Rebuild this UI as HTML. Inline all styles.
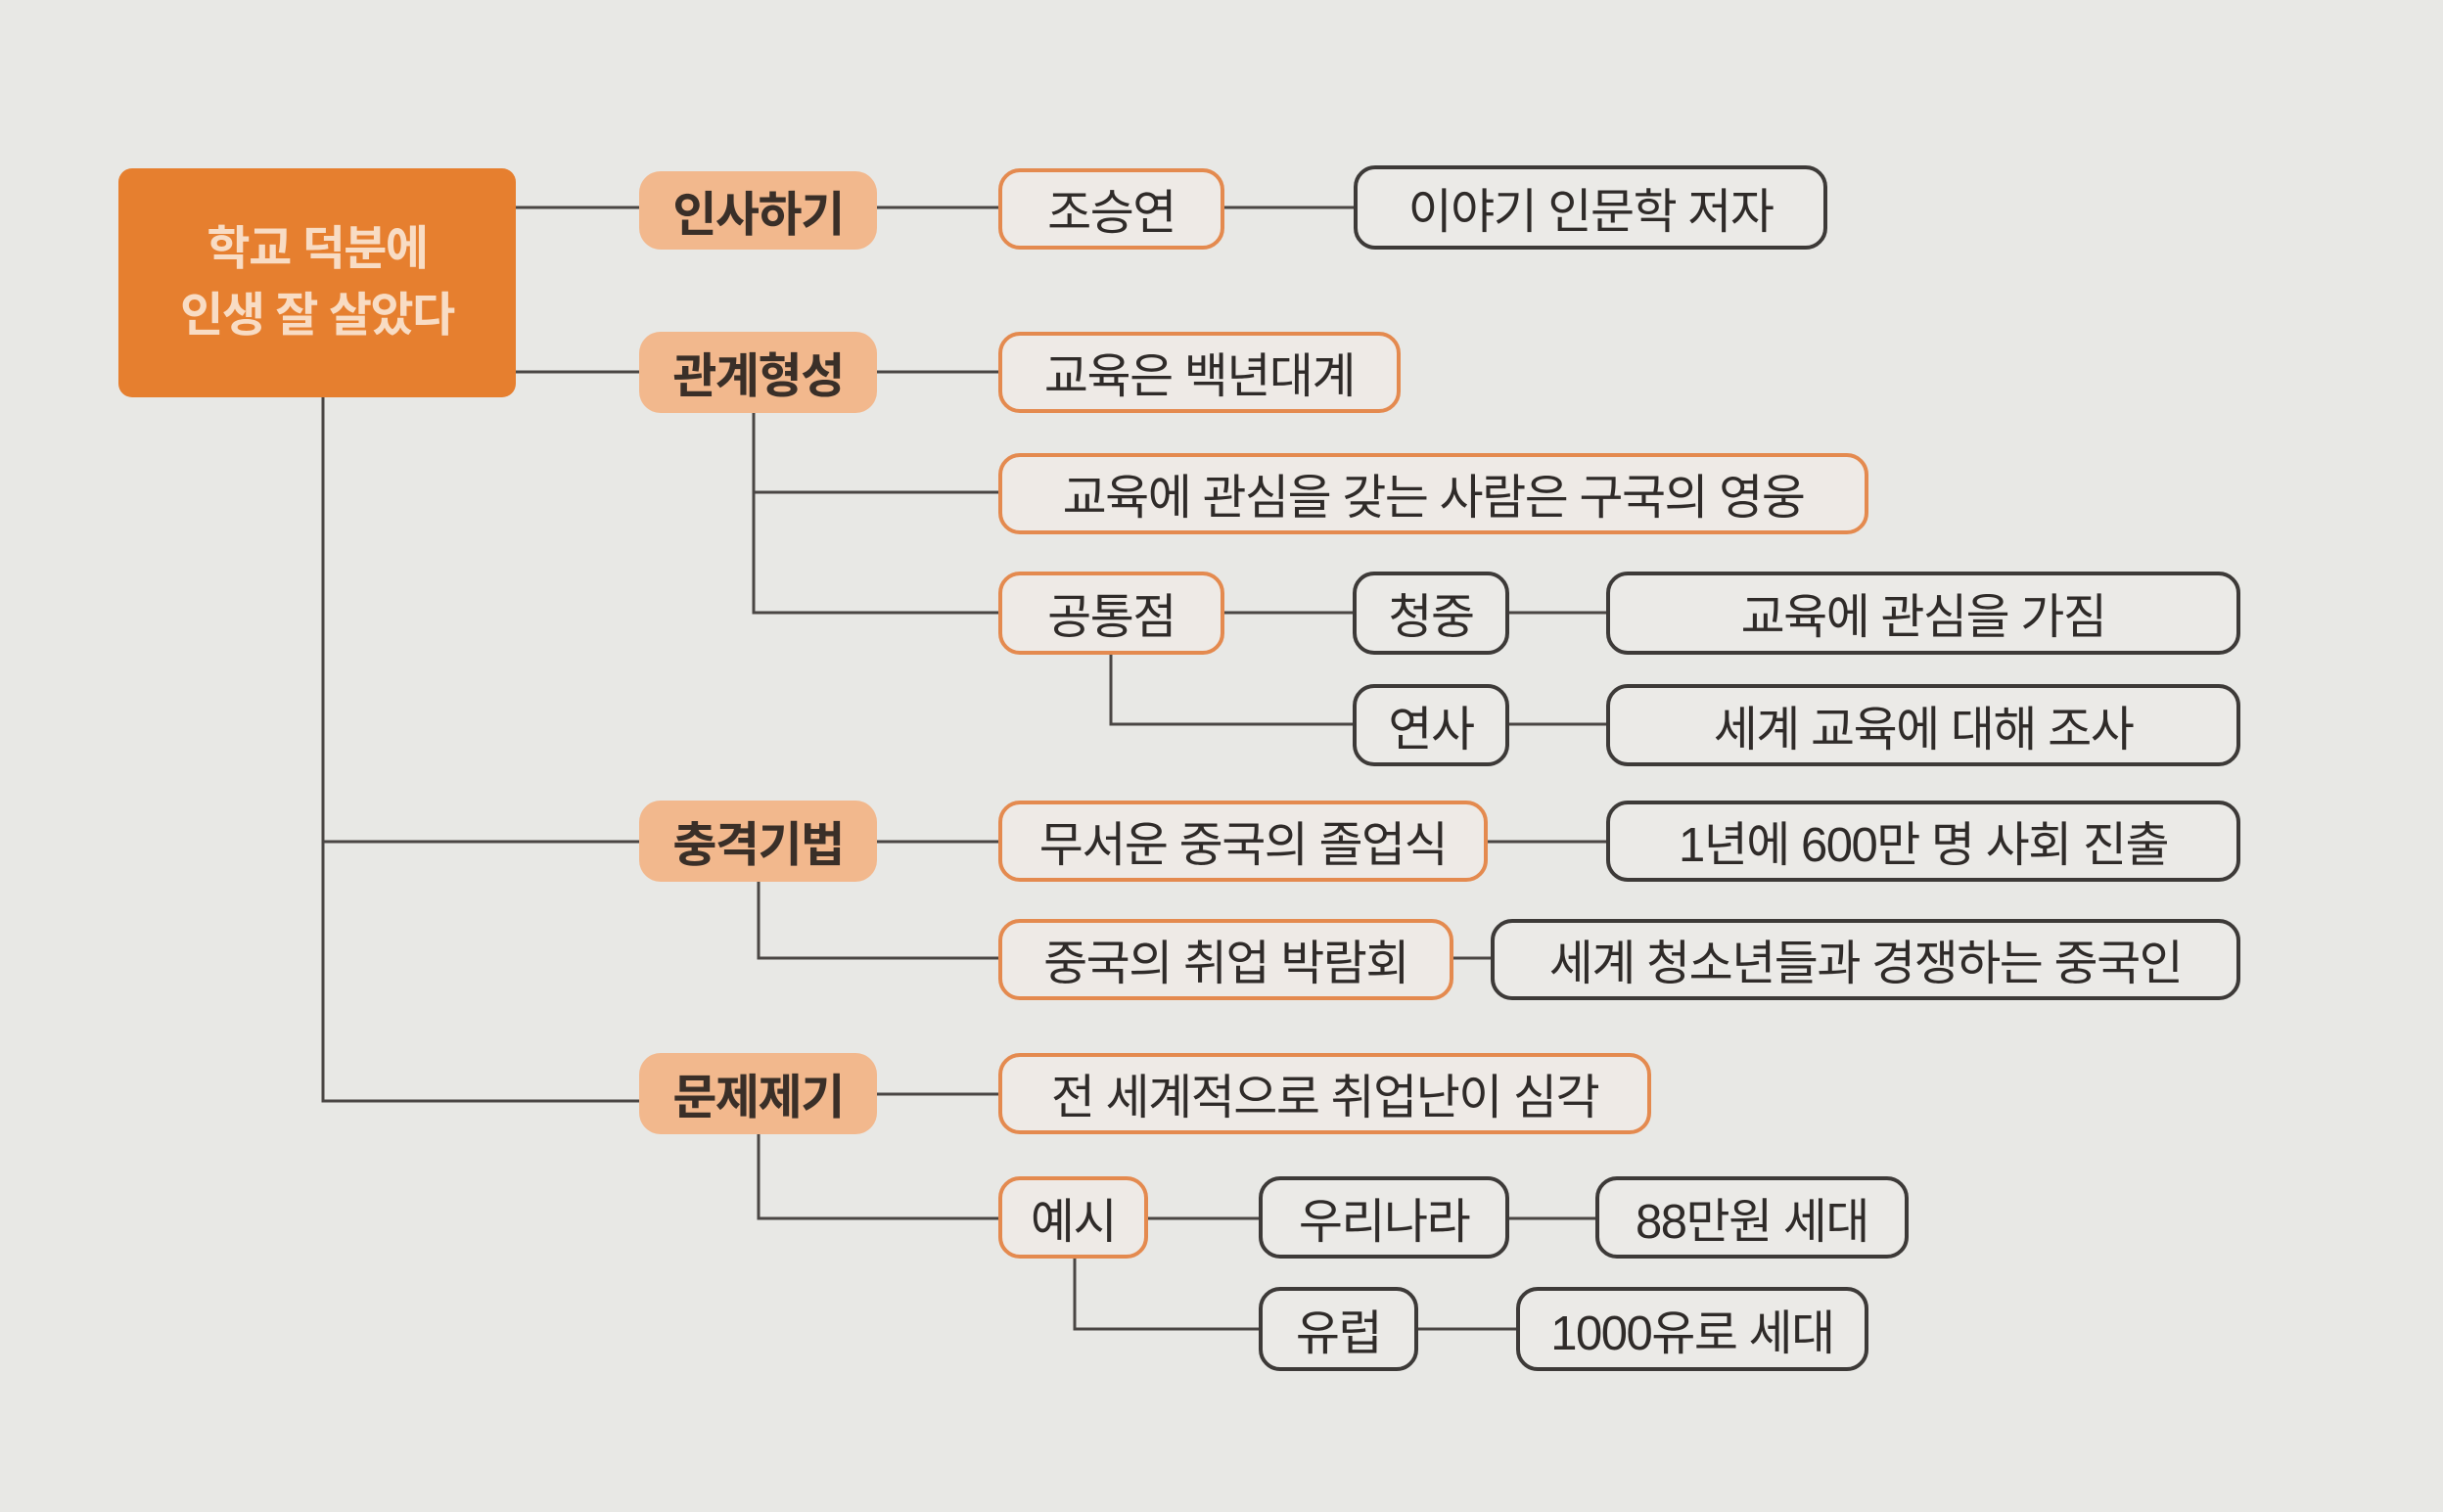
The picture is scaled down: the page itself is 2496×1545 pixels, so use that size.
<!DOCTYPE html>
<html><head><meta charset="utf-8"><style>
html,body{margin:0;padding:0}
body{width:2496px;height:1545px;background:#e8e8e5;position:relative;overflow:hidden;font-family:"Liberation Sans","Noto Sans CJK KR","NanumGothic",sans-serif}
.b{position:absolute;box-sizing:border-box;display:flex;align-items:center;justify-content:center;font-size:49px;color:#2f2b29;border-radius:22px;white-space:nowrap;letter-spacing:-1.5px}
.o{border:4px solid #e48a4f;background:#eeeae6}
.k{border:4px solid #3d3a38;background:#ebeae7}
.f{background:#f2b88d;color:#3a2f28;font-weight:bold}
.r{background:#e67f2f;color:#f8dcc4;border-radius:14px;flex-direction:column;line-height:68px;font-size:48px;font-weight:bold}
svg{position:absolute;left:0;top:0}
</style></head><body>
<svg width="2496" height="1545"><g stroke="#4a4644" stroke-width="3" fill="none">
<path d="M527 212H653M527 380H653M330 406V1125H653M330 860H653"/>
<path d="M896 212H1020M1251 212H1383"/>
<path d="M896 380H1020M770 422V626H1020M770 503H1020"/>
<path d="M1251 626H1382M1542 626H1641M1135 669V740H1382M1542 740H1641"/>
<path d="M896 860H1020M1520 860H1641M775 901V979H1020M1485 979H1523"/>
<path d="M896 1118H1020M775 1159V1245H1020M1173 1245H1286M1542 1245H1630M1098 1286V1358H1286M1449 1358H1549"/>
</g></svg>
<div class="b r" style="left:121px;top:172px;width:406px;height:234px"><div>학교 덕분에</div><div>인생 잘 살았다</div></div>
<div class="b f" style="left:653px;top:175px;width:243px;height:80px">인사하기</div>
<div class="b o" style="left:1020px;top:172px;width:231px;height:83px">조승연</div>
<div class="b k" style="left:1383px;top:169px;width:484px;height:86px">이야기 인문학 저자</div>
<div class="b f" style="left:653px;top:339px;width:243px;height:83px">관계형성</div>
<div class="b o" style="left:1020px;top:339px;width:411px;height:83px">교육은 백년대계</div>
<div class="b o" style="left:1020px;top:463px;width:889px;height:83px">교육에 관심을 갖는 사람은 구국의 영웅</div>
<div class="b o" style="left:1020px;top:584px;width:231px;height:85px">공통점</div>
<div class="b k" style="left:1382px;top:584px;width:160px;height:85px">청중</div>
<div class="b k" style="left:1641px;top:584px;width:648px;height:85px">교육에 관심을 가짐</div>
<div class="b k" style="left:1382px;top:699px;width:160px;height:84px">연사</div>
<div class="b k" style="left:1641px;top:699px;width:648px;height:84px">세계 교육에 대해 조사</div>
<div class="b f" style="left:653px;top:818px;width:243px;height:83px">충격기법</div>
<div class="b o" style="left:1020px;top:818px;width:500px;height:83px">무서운 중국의 졸업식</div>
<div class="b k" style="left:1641px;top:818px;width:648px;height:83px">1년에 600만 명 사회 진출</div>
<div class="b o" style="left:1020px;top:939px;width:465px;height:83px">중국의 취업 박람회</div>
<div class="b k" style="left:1523px;top:939px;width:766px;height:83px">세계 청소년들과 경쟁하는 중국인</div>
<div class="b f" style="left:653px;top:1076px;width:243px;height:83px">문제제기</div>
<div class="b o" style="left:1020px;top:1076px;width:667px;height:83px">전 세계적으로 취업난이 심각</div>
<div class="b o" style="left:1020px;top:1202px;width:153px;height:84px">예시</div>
<div class="b k" style="left:1286px;top:1202px;width:256px;height:84px">우리나라</div>
<div class="b k" style="left:1630px;top:1202px;width:320px;height:84px">88만원 세대</div>
<div class="b k" style="left:1286px;top:1315px;width:163px;height:86px">유럽</div>
<div class="b k" style="left:1549px;top:1315px;width:360px;height:86px">1000유로 세대</div>
</body></html>
